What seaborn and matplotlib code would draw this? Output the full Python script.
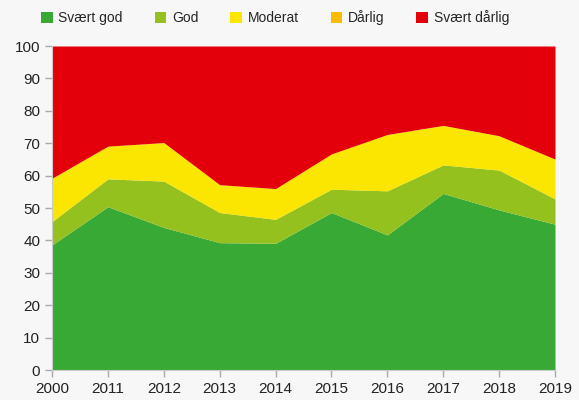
import matplotlib
matplotlib.use("Agg")
import matplotlib.pyplot as plt
import numpy as np
import seaborn as sns
from matplotlib.patches import Patch

YEARS = ["2000", "2011", "2012", "2013", "2014", "2015", "2016", "2017", "2018", "2019"]
SERIES = ["Svært god", "God", "Moderat", "Dårlig", "Svært dårlig"]
svaert_god = [38.6, 50.4, 44.0, 39.3, 39.1, 48.6, 41.7, 54.5, 49.4, 45.0]
god = [7.2, 8.6, 14.3, 9.3, 7.4, 7.2, 13.6, 8.8, 12.3, 7.8]
moderat = [13.4, 10.1, 11.9, 8.6, 9.5, 10.9, 17.4, 12.2, 10.6, 12.3]
darlig = [0, 0, 0, 0, 0, 0, 0, 0, 0, 0]
svaert_darlig = [40.8, 30.9, 29.8, 42.8, 44.0, 33.3, 27.3, 24.5, 27.7, 34.9]

COLORS = ["#38a935", "#95c11f", "#fae600", "#fbbb00", "#e3000b"]
BG = "#f7f7f7"

sns.set_style("ticks")
plt.rcParams["font.family"] = ["Liberation Sans", "DejaVu Sans"]

fig = plt.figure(figsize=(5.79, 4.0), dpi=100, facecolor=BG)
ax = fig.add_axes([52 / 579, 1 - 370 / 400, (555 - 52) / 579, (370 - 46) / 400])
ax.set_facecolor(BG)

x = np.arange(len(YEARS))
ax.stackplot(x, svaert_god, god, moderat, darlig, svaert_darlig,
             colors=COLORS, linewidth=0)

ax.set_xlim(0, len(YEARS) - 1)
ax.set_ylim(0, 100)
ax.set_xticks(x)
ax.set_xticklabels(YEARS)
ax.set_yticks(np.arange(0, 101, 10))
ax.tick_params(axis="both", colors="#aaaaaa", labelcolor="#222222",
               labelsize=11, length=5, width=1)
for s in ["top", "right"]:
    ax.spines[s].set_visible(False)
for s in ["left", "bottom"]:
    ax.spines[s].set_color("#cccccc")

handles = [Patch(facecolor=c, edgecolor="none") for c in COLORS]
fig.legend(handles, SERIES, loc="upper center", bbox_to_anchor=(0.475, 1.005),
           ncol=5, frameon=False, fontsize=10, handlelength=0.85,
           handleheight=0.85, handletextpad=0.4, columnspacing=2.3)

fig.savefig("out.png", dpi=100, facecolor=BG)
